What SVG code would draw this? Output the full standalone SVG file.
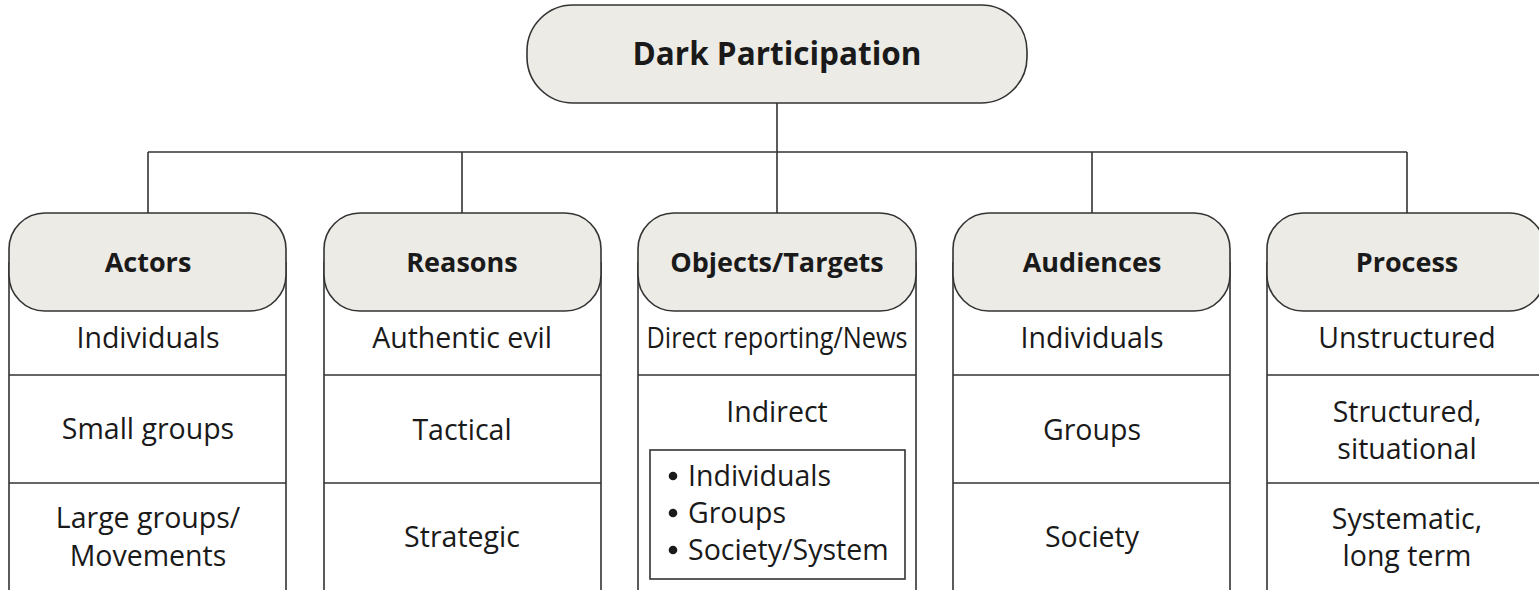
<svg xmlns="http://www.w3.org/2000/svg" width="1539" height="590" viewBox="0 0 1539 590">
<style>
.hdr{fill:#EDEBE6;stroke:#333;stroke-width:1.6}
.col{fill:#fff;stroke:#333;stroke-width:1.6}
.ln{stroke:#333;stroke-width:1.6;fill:none}
.t{font-family:"Open Sans","Liberation Sans",sans-serif;font-size:28.5px;fill:#1a1a1a;text-anchor:middle}
.b{font-family:"Open Sans","Liberation Sans",sans-serif;font-size:27px;font-weight:bold;fill:#1a1a1a;text-anchor:middle}
.l{font-family:"Open Sans","Liberation Sans",sans-serif;font-size:28.5px;fill:#1a1a1a}
</style>
<rect width="1539" height="590" fill="#fff"/>
<g id="connectors" class="ln">
<line x1="777" y1="103" x2="777" y2="152"/>
<line x1="148" y1="152" x2="1407" y2="152"/>
<line x1="148" y1="152" x2="148" y2="213"/>
<line x1="462" y1="152" x2="462" y2="213"/>
<line x1="777" y1="152" x2="777" y2="213"/>
<line x1="1092" y1="152" x2="1092" y2="213"/>
<line x1="1407" y1="152" x2="1407" y2="213"/>
</g>
<g id="root">
<rect class="hdr" x="527" y="5" width="500" height="98" rx="46" ry="46"/>
<text class="b" x="777" y="65" style="font-size:31.5px">Dark Participation</text>
</g>
<g id="actors">
<path class="col" d="M9,262 V600 H286 V262"/>
<line class="ln" x1="9" y1="375" x2="286" y2="375"/>
<line class="ln" x1="9" y1="483" x2="286" y2="483"/>
<rect class="hdr" x="9" y="213" width="277" height="98" rx="36" ry="36"/>
<text class="b" x="148" y="272">Actors</text>
<text class="t" x="148" y="348">Individuals</text>
<text class="t" x="148" y="439">Small groups</text>
<text class="t" x="148" y="528">Large groups/</text>
<text class="t" x="148" y="566">Movements</text>
</g>
<g id="reasons">
<path class="col" d="M324,262 V600 H601 V262"/>
<line class="ln" x1="324" y1="375" x2="601" y2="375"/>
<line class="ln" x1="324" y1="483" x2="601" y2="483"/>
<rect class="hdr" x="324" y="213" width="277" height="98" rx="36" ry="36"/>
<text class="b" x="462" y="272">Reasons</text>
<text class="t" x="462" y="348">Authentic evil</text>
<text class="t" x="462" y="440">Tactical</text>
<text class="t" x="462" y="547">Strategic</text>
</g>
<g id="objects">
<path class="col" d="M638,262 V600 H916 V262"/>
<line class="ln" x1="638" y1="375" x2="916" y2="375"/>
<rect class="hdr" x="638" y="213" width="278" height="98" rx="36" ry="36"/>
<text class="b" x="777" y="272">Objects/Targets</text>
<text class="t" x="777" y="348" textLength="261" lengthAdjust="spacingAndGlyphs">Direct reporting/News</text>
<text class="t" x="777" y="422">Indirect</text>
<rect class="ln" x="650" y="450" width="255" height="129"/>
<circle cx="673" cy="476" r="4.3" fill="#1a1a1a"/>
<circle cx="673" cy="513" r="4.3" fill="#1a1a1a"/>
<circle cx="673" cy="550" r="4.3" fill="#1a1a1a"/>
<text class="l" x="688" y="486">Individuals</text>
<text class="l" x="688" y="523">Groups</text>
<text class="l" x="688" y="560">Society/System</text>
</g>
<g id="audiences">
<path class="col" d="M953,262 V600 H1230 V262"/>
<line class="ln" x1="953" y1="375" x2="1230" y2="375"/>
<line class="ln" x1="953" y1="483" x2="1230" y2="483"/>
<rect class="hdr" x="953" y="213" width="277" height="98" rx="36" ry="36"/>
<text class="b" x="1092" y="272">Audiences</text>
<text class="t" x="1092" y="348">Individuals</text>
<text class="t" x="1092" y="440">Groups</text>
<text class="t" x="1092" y="547">Society</text>
</g>
<g id="process">
<path class="col" d="M1267,262 V600 H1545 V262"/>
<line class="ln" x1="1267" y1="375" x2="1545" y2="375"/>
<line class="ln" x1="1267" y1="483" x2="1545" y2="483"/>
<rect class="hdr" x="1267" y="213" width="278" height="98" rx="36" ry="36"/>
<text class="b" x="1407" y="272">Process</text>
<text class="t" x="1407" y="348">Unstructured</text>
<text class="t" x="1407" y="422">Structured,</text>
<text class="t" x="1407" y="459">situational</text>
<text class="t" x="1407" y="529">Systematic,</text>
<text class="t" x="1407" y="566">long term</text>
</g>
</svg>
